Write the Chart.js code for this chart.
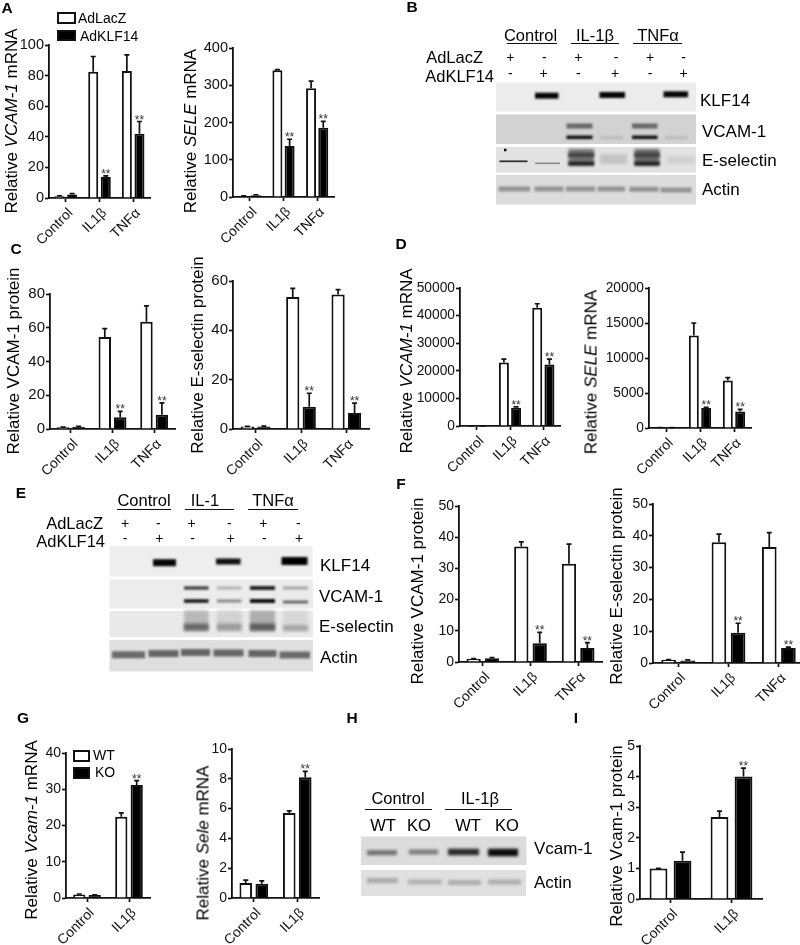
<!DOCTYPE html>
<html>
<head>
<meta charset="utf-8">
<script src="https://cdn.jsdelivr.net/npm/chart.js@4"></script>
<style>
  html, body { margin: 0; padding: 0; background: #fff; overflow: hidden; }
  #page { position: relative; width: 800px; height: 945px; overflow: hidden; font-family: "Liberation Sans", Arial, sans-serif; color: #000; filter: blur(0.3px); }
  #page canvas { position: absolute; }
  .t { position: absolute; white-space: nowrap; line-height: 1; }
  .r { position: absolute; }
</style>
</head>
<body>
<div id="page"><canvas id="blots" width="800" height="945" style="left:0;top:0"></canvas></div>
<script>
const cats3 = ['Control', 'IL1β', 'TNFα'];
const cats2 = ['Control', 'IL1β'];

// values, and the top of each error bar
const a1White = [1.2, 82.5, 83];
const a1Black = [2.3, 13.7, 42];
const a1WhiteTop = [1.4, 92.5, 93.5];
const a1BlackTop = [2.8, 14.5, 50];
const a1Ticks = [0, 20, 40, 60, 80, 100];

const a2White = [2, 340, 292];
const a2Black = [5, 137, 186];
const a2WhiteTop = [3, 342, 311];
const a2BlackTop = [6, 155, 203];
const a2Ticks = [0, 100, 200, 300, 400];

const c1White = [1, 54.5, 63.5];
const c1Black = [1.3, 7, 8.5];
const c1WhiteTop = [1.1, 59.5, 73];
const c1BlackTop = [1.5, 10.5, 15.5];
const c1Ticks = [0, 20, 40, 60, 80];

const c2White = [1, 53.5, 54.5];
const c2Black = [1, 9, 6.5];
const c2WhiteTop = [1.1, 57, 56.5];
const c2BlackTop = [1.2, 14.5, 10.5];
const c2Ticks = [0, 20, 40, 60];

const d1White = [50, 23000, 42800];
const d1Black = [50, 6600, 22300];
const d1WhiteTop = [50, 24200, 44300];
const d1BlackTop = [50, 6900, 24200];
const d1Ticks = [0, 10000, 20000, 30000, 40000, 50000];

const d2White = [50, 13200, 6800];
const d2Black = [50, 2850, 2350];
const d2WhiteTop = [50, 15000, 7200];
const d2BlackTop = [50, 2950, 2650];
const d2Ticks = [0, 5000, 10000, 15000, 20000];

const f1White = [1, 37, 31.5];
const f1Black = [1.2, 6, 4.5];
const f1WhiteTop = [1.1, 38.5, 37.8];
const f1BlackTop = [1.4, 9.5, 6.2];
const f1Ticks = [0, 10, 20, 30, 40, 50];

const f2White = [1, 38, 36.5];
const f2Black = [0.8, 9.5, 4.7];
const f2WhiteTop = [1.1, 40.5, 41];
const f2BlackTop = [1, 12.5, 5];
const f2Ticks = [0, 10, 20, 30, 40, 50];

const g1White = [1, 22.4];
const g1Black = [0.8, 31.2];
const g1WhiteTop = [1.1, 23.5];
const g1BlackTop = [0.9, 32.4];
const g1Ticks = [0, 10, 20, 30, 40];

const g2White = [1, 5.7];
const g2Black = [0.95, 8.1];
const g2WhiteTop = [1.2, 5.85];
const g2BlackTop = [1.15, 8.5];
const g2Ticks = [0, 2, 4, 6, 8, 10];

const iWhite = [1, 2.68];
const iBlack = [1.25, 4];
const iWhiteTop = [1, 2.87];
const iBlackTop = [1.53, 4.28];
const iTicks = [0, 1, 2, 3, 4, 5];

const AXW = 56, AXH = 70, PADT = 14, PADR = 14;
const page = document.getElementById('page');

// error bars and ** drawn from the same scales as the bars
const errorBars = {
  id: 'errorBars',
  afterDatasetsDraw(chart) {
    const ctx = chart.ctx, y = chart.scales.y;
    chart.data.datasets.forEach((ds, d) => {
      chart.getDatasetMeta(d).data.forEach((bar, i) => {
        const top = y.getPixelForValue(ds.errTop[i]);
        ctx.save();
        ctx.strokeStyle = '#111';
        ctx.lineWidth = 1.7;
        ctx.beginPath();
        ctx.moveTo(bar.x, y.getPixelForValue(ds.data[i]));
        ctx.lineTo(bar.x, top);
        ctx.moveTo(bar.x - 2.5, top);
        ctx.lineTo(bar.x + 2.5, top);
        ctx.stroke();
        if (ds.stars && ds.stars.includes(i)) {
          ctx.fillStyle = '#333';
          ctx.font = '12px "Liberation Sans"';
          ctx.textAlign = 'center';
          ctx.fillText('**', bar.x, top + 2);
        }
        ctx.restore();
      });
    });
  }
};

function panel(o) {
  const cv = document.createElement('canvas');
  cv.width = o.right - o.left + AXW + PADR;
  cv.height = o.bottom - o.top + PADT + AXH;
  cv.style.left = (o.left - AXW) + 'px';
  cv.style.top = (o.top - PADT) + 'px';
  page.appendChild(cv);
  const catW = (o.right - o.left) / o.cats.length;
  const common = { categoryPercentage: o.chunk * 2 / catW, barPercentage: o.bar / o.chunk, borderColor: '#111', borderWidth: 2, borderSkipped: 'start' };
  new Chart(cv, {
    type: 'bar',
    data: {
      labels: o.cats,
      datasets: [
        { ...common, data: o.white, errTop: o.whiteTop, backgroundColor: '#fff' },
        { ...common, data: o.black, errTop: o.blackTop, backgroundColor: '#000', stars: o.stars }
      ]
    },
    options: {
      responsive: false,
      animation: false,
      devicePixelRatio: 1,
      layout: { padding: { top: PADT, right: PADR, left: 0, bottom: 0 } },
      plugins: { legend: { display: false }, tooltip: { enabled: false } },
      scales: {
        x: {
          afterFit(s) { s.height = AXH; },
          grid: { offset: false, drawOnChartArea: false, tickLength: 4, tickWidth: 1.7, tickColor: '#111' },
          border: { color: '#111', width: 1.8 },
          ticks: { autoSkip: false, minRotation: 45, maxRotation: 45, padding: 3, labelOffset: 5, color: '#111', font: { family: 'Liberation Sans', size: o.xFont || 14 } }
        },
        y: {
          min: o.ticks[0],
          max: o.ticks[o.ticks.length - 1],
          afterFit(s) { s.width = AXW; },
          grid: { drawOnChartArea: false, tickLength: 4, tickWidth: 1.7, tickColor: '#111' },
          border: { color: '#111', width: 1.8 },
          ticks: { stepSize: o.ticks[1] - o.ticks[0], padding: 1, color: '#111', callback: v => String(v), font: { family: 'Liberation Sans', size: o.yFont || 14.5 } }
        }
      }
    },
    plugins: [errorBars]
  });
}

panel({ left: 49, top: 44.5, right: 150, bottom: 197.5, cats: cats3, white: a1White, black: a1Black, whiteTop: a1WhiteTop, blackTop: a1BlackTop, ticks: a1Ticks, bar: 10, chunk: 12.6, stars: [1, 2] });
panel({ left: 233, top: 47.5, right: 334, bottom: 196.5, cats: cats3, white: a2White, black: a2Black, whiteTop: a2WhiteTop, blackTop: a2BlackTop, ticks: a2Ticks, bar: 10, chunk: 12.2, stars: [1, 2] });
panel({ left: 49.5, top: 293.5, right: 175, bottom: 429, cats: cats3, white: c1White, black: c1Black, whiteTop: c1WhiteTop, blackTop: c1BlackTop, ticks: c1Ticks, bar: 12.5, chunk: 15.5, stars: [1, 2], yFont: 15 });
panel({ left: 233, top: 281, right: 369, bottom: 429, cats: cats3, white: c2White, black: c2Black, whiteTop: c2WhiteTop, blackTop: c2BlackTop, ticks: c2Ticks, bar: 13.2, chunk: 16.5, stars: [1, 2], yFont: 15 });
panel({ left: 459.5, top: 288, right: 559.5, bottom: 426.5, cats: cats3, white: d1White, black: d1Black, whiteTop: d1WhiteTop, blackTop: d1BlackTop, ticks: d1Ticks, bar: 10, chunk: 12.2, stars: [1, 2], yFont: 13.8 });
panel({ left: 648.5, top: 288, right: 751, bottom: 428, cats: cats3, white: d2White, black: d2Black, whiteTop: d2WhiteTop, blackTop: d2BlackTop, ticks: d2Ticks, bar: 10, chunk: 12.4, stars: [1, 2], yFont: 13.8 });
panel({ left: 458.5, top: 506, right: 601.5, bottom: 662, cats: cats3, white: f1White, black: f1Black, whiteTop: f1WhiteTop, blackTop: f1BlackTop, ticks: f1Ticks, bar: 14.3, chunk: 18.4, stars: [1, 2], yFont: 14 });
panel({ left: 652.5, top: 504, right: 804, bottom: 663, cats: cats3, white: f2White, black: f2Black, whiteTop: f2WhiteTop, blackTop: f2BlackTop, ticks: f2Ticks, bar: 14.7, chunk: 19.2, stars: [1, 2], yFont: 14 });
panel({ left: 65.5, top: 753, right: 150, bottom: 898, cats: cats2, white: g1White, black: g1Black, whiteTop: g1WhiteTop, blackTop: g1BlackTop, ticks: g1Ticks, bar: 12.3, chunk: 15.5, stars: [1], yFont: 14 });
panel({ left: 231.5, top: 748.5, right: 318.5, bottom: 898, cats: cats2, white: g2White, black: g2Black, whiteTop: g2WhiteTop, blackTop: g2BlackTop, ticks: g2Ticks, bar: 12.6, chunk: 16, stars: [1], yFont: 14 });
panel({ left: 640, top: 745.5, right: 762, bottom: 898.5, cats: cats2, white: iWhite, black: iBlack, whiteTop: iWhiteTop, blackTop: iBlackTop, ticks: iTicks, bar: 17.8, chunk: 24, stars: [1], yFont: 14 });

// plain text, anchored by its left / centre / right at a middle height
function text(x, y, html, size, anchor, bold) {
  const el = document.createElement('div');
  el.className = 't';
  el.innerHTML = html;
  el.style.left = x + 'px';
  el.style.top = y + 'px';
  el.style.fontSize = size + 'px';
  if (bold) el.style.fontWeight = 'bold';
  const dx = anchor === 'l' ? '0' : anchor === 'r' ? '-100%' : '-50%';
  el.style.transform = `translate(${dx},-50%)`;
  page.appendChild(el);
}
function yTitle(x, y, html) {
  const el = document.createElement('div');
  el.className = 't';
  el.innerHTML = html;
  el.style.left = x + 'px';
  el.style.top = y + 'px';
  el.style.fontSize = '17px';
  el.style.transform = 'translate(-50%,-50%) rotate(-90deg)';
  page.appendChild(el);
}
function rect(x, y, w, h, fill, border) {
  const el = document.createElement('div');
  el.className = 'r';
  el.style.cssText += `left:${x}px;top:${y}px;width:${w}px;height:${h}px;background:${fill};box-sizing:border-box;` + (border ? 'border:2px solid #111;' : '');
  page.appendChild(el);
}

yTitle(10.5, 120.5, 'Relative <i>VCAM-1</i> mRNA');
yTitle(190, 131, 'Relative <i>SELE</i> mRNA');
yTitle(12.5, 361, 'Relative VCAM-1 protein');
yTitle(197, 355, 'Relative E-selectin protein');
yTitle(405.5, 361, 'Relative <i>VCAM-1</i> mRNA');
yTitle(591, 372, 'Relative <i>SELE</i> mRNA');
yTitle(417, 591, 'Relative VCAM-1 protein');
yTitle(616, 586, 'Relative E-selectin protein');
yTitle(31, 830, 'Relative <i>Vcam-1</i> mRNA');
yTitle(203, 842.5, 'Relative <i>Sele</i> mRNA');
yTitle(616, 836, 'Relative Vcam-1 protein');

[['A', 7, 8], ['B', 412, 7], ['C', 16, 249], ['D', 401, 244], ['E', 21, 493], ['F', 401, 484], ['G', 23, 718], ['H', 352, 718], ['I', 576, 718]]
  .forEach(p => text(p[1], p[2], p[0], 15.5, 'c', true));

// legends
rect(57, 12, 19, 11.5, '#fff', true);
rect(57, 29.5, 19, 11.5, '#000', true);
text(78, 18, 'AdLacZ', 14, 'l');
text(80, 36, 'AdKLF14', 14, 'l');
rect(73, 750, 16.5, 11.5, '#fff', true);
rect(73, 767, 16.5, 11.5, '#000', true);
text(93, 755, 'WT', 14, 'l');
text(95, 772, 'KO', 14, 'l');

// blot B labels
const blotFont = 16.5;
text(530.5, 35, 'Control', blotFont, 'c');
text(595, 35, 'IL-1β', blotFont, 'c');
text(658, 35, 'TNFα', blotFont, 'c');
rect(507, 42.5, 50, 1.5, '#111');
rect(571, 42.5, 48, 1.5, '#111');
rect(633, 42.5, 49, 1.5, '#111');
text(483, 57, 'AdLacZ', blotFont, 'r');
text(494, 76, 'AdKLF14', blotFont, 'r');
const bLanes1 = [510.3, 544.3, 578.3, 616, 650, 683.7];
const bLanes2 = [510.3, 543.7, 578.3, 615, 650, 683.7];
['+', '-', '+', '-', '+', '-'].forEach((s, i) => text(bLanes1[i], 57, s, 14, 'c'));
['-', '+', '-', '+', '-', '+'].forEach((s, i) => text(bLanes2[i], 73, s, 14, 'c'));
text(700, 100, 'KLF14', 17, 'l');
text(702, 130.5, 'VCAM-1', 17, 'l');
text(702, 160, 'E-selectin', 17, 'l');
text(702, 189, 'Actin', 17, 'l');

// blot E labels
text(144, 500, 'Control', blotFont, 'c');
text(205, 500, 'IL-1', blotFont, 'c');
text(273, 500, 'TNFα', blotFont, 'c');
rect(117, 508.5, 54, 1.5, '#111');
rect(185, 508.5, 49, 1.5, '#111');
rect(248, 508.5, 50, 1.5, '#111');
text(103, 523, 'AdLacZ', blotFont, 'r');
text(105, 541, 'AdKLF14', blotFont, 'r');
const eLanes1 = [125, 158.3, 191.7, 229.3, 263.3, 298.3];
const eLanes2 = [125, 159.3, 192.7, 230.7, 264.3, 299];
['+', '-', '+', '-', '+', '-'].forEach((s, i) => text(eLanes1[i], 523, s, 14, 'c'));
['-', '+', '-', '+', '-', '+'].forEach((s, i) => text(eLanes2[i], 538, s, 14, 'c'));
text(320, 565, 'KLF14', 17, 'l');
text(319, 596, 'VCAM-1', 17, 'l');
text(319, 625.5, 'E-selectin', 17, 'l');
text(320, 656.5, 'Actin', 17, 'l');

// blot H labels
text(398, 798, 'Control', blotFont, 'c');
text(480, 798, 'IL-1β', blotFont, 'c');
rect(365, 808.5, 67, 1.5, '#111');
rect(445, 808.5, 67, 1.5, '#111');
[['WT', 383], ['KO', 419], ['WT', 468], ['KO', 507]].forEach(p => text(p[1], 825, p[0], blotFont, 'c'));
text(534, 848, 'Vcam-1', 17, 'l');
text(534, 882, 'Actin', 17, 'l');

// blot images: [x0, x1, y centre, height, colour, blur]
const blotRows = [
  [496, 696, 82.5, 111.5, '#ececec'], [496, 696, 114.5, 144, '#d2d2d2'], [496, 696, 147, 172.5, '#e2e2e2'], [496, 696, 175, 204.5, '#dcdcdc'],
  [109.5, 312.5, 546, 576.5, '#eeeeee'], [109.5, 313, 579.5, 608.5, '#ececec'], [109.5, 313, 611, 637, '#e9e9e9'], [109.5, 313, 640, 671.5, '#dfdfdf'],
  [361, 526.5, 836.5, 865, '#dcdcdc'], [361, 526, 870, 896, '#e0e0e0']
];
const blotBands = [
  // B KLF14
  [535, 558.5, 95.7, 6, '#050505', 1], [599.5, 625, 95, 6, '#050505', 1], [663.5, 688, 94.3, 6, '#050505', 1],
  // B VCAM-1
  [566.5, 592.5, 126, 5, '#666', 1.1], [632, 657.5, 126, 5, '#666', 1.1], [566.5, 592.5, 137.3, 3.5, '#0a0a0a', 0.9], [632, 657.5, 137.3, 3.5, '#0a0a0a', 0.9],
  [600, 623, 137.5, 3, '#bbb', 1.2], [665, 688, 137.5, 3, '#bbb', 1.2],
  // B E-selectin
  [568.5, 594, 157.5, 17, '#707070', 1.5], [568.5, 594, 163.5, 3.5, '#222', 1.2], [568.5, 594, 155, 4, '#444', 1.2], [634.5, 659.5, 157.5, 17, '#666', 1.5], [634.5, 659.5, 163.5, 3.5, '#222', 1.2], [634.5, 659.5, 155, 4, '#444', 1.2],
  [600, 627, 159, 10, '#c4c4c4', 1.8], [667, 695, 160, 8, '#d2d2d2', 1.8], [499.5, 527.5, 161.3, 1.8, '#333', 0.6], [535, 560, 163.3, 1.5, '#888', 0.6],
  [504, 506.5, 150, 2.5, '#111', 0.4],
  // B actin
  [498.5, 530, 189, 5, '#929292', 1.2], [534.5, 563.5, 189, 5, '#929292', 1.2], [566, 595, 189, 5, '#929292', 1.2], [597.5, 625, 189, 5, '#929292', 1.2], [629.5, 658.5, 189.3, 5, '#929292', 1.2], [660.5, 691.5, 190, 5, '#929292', 1.2],
  // E KLF14
  [153, 176, 562.7, 7, '#050505', 1.1], [216, 240.5, 561.5, 6, '#111', 1.1], [281.5, 307.5, 561, 8, '#000', 1.1],
  // E VCAM-1
  [184, 208.5, 588, 3.5, '#444', 1], [217, 241.5, 588, 3, '#b0b0b0', 1], [250, 275, 588, 4, '#222', 1], [283, 308, 588, 3, '#a4a4a4', 1],
  [184, 208.5, 601, 3.5, '#111', 0.9], [217, 241.5, 601, 3, '#888', 1], [250, 275, 601, 4, '#0a0a0a', 0.9], [283, 308, 602, 3, '#666', 1],
  // E E-selectin
  [184, 208.5, 621, 21, '#b8b8b8', 1.5], [184, 208.5, 627, 7, '#6a6a6a', 1.6], [217, 241.5, 621, 21, '#d2d2d2', 1.5], [217, 241.5, 627, 7, '#9c9c9c', 1.6],
  [250, 275, 621, 21, '#aeaeae', 1.5], [250, 275, 627, 7, '#5e5e5e', 1.6], [283, 308, 621, 21, '#d8d8d8', 1.5], [283, 308, 628, 6, '#a8a8a8', 1.6],
  // E actin
  [112, 145, 654.8, 7, '#6a6a6a', 1.2], [148.5, 178.5, 653.5, 7, '#666', 1.2], [181, 210, 652.5, 7, '#666', 1.2], [213.5, 243.5, 653, 7, '#666', 1.2], [248.5, 276.5, 653.5, 7, '#666', 1.2], [279.5, 310, 655, 7, '#6a6a6a', 1.2],
  // H Vcam-1
  [367, 397, 852.7, 5, '#6e6e6e', 1.6], [409, 438, 852, 5, '#7c7c7c', 1.6], [448, 479, 852, 6.5, '#2a2a2a', 1.6], [488, 518, 852.5, 7.5, '#0a0a0a', 1.6],
  // H actin
  [367, 398, 880.5, 5, '#a8a8a8', 1.6], [408, 442, 882, 5, '#b0b0b0', 1.6], [448, 481, 882.5, 5, '#acacac', 1.6], [488, 521, 882, 5, '#acacac', 1.6]
];
const bctx = document.getElementById('blots').getContext('2d');
blotRows.forEach(r => {
  bctx.fillStyle = r[4];
  bctx.fillRect(r[0], r[2], r[1] - r[0], r[3] - r[2]);
});
blotBands.forEach(b => {
  bctx.filter = `blur(${b[5]}px)`;
  bctx.fillStyle = b[4];
  bctx.fillRect(b[0], b[2] - b[3] / 2, b[1] - b[0], b[3]);
});
bctx.filter = 'none';
</script>
</body>
</html>
